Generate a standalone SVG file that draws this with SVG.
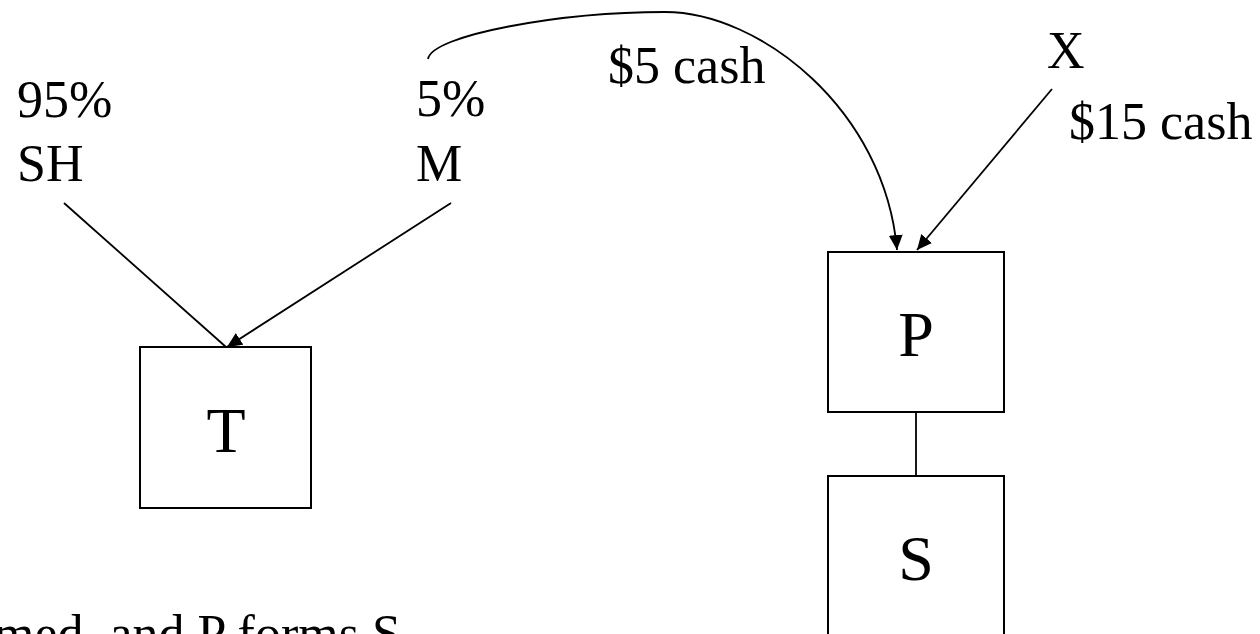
<svg xmlns="http://www.w3.org/2000/svg" width="1260" height="634" viewBox="0 0 1260 634">
<style>
.lbl{font-family:"Liberation Serif","Times New Roman",serif;font-size:52px;fill:#000}
.big{font-family:"Liberation Serif","Times New Roman",serif;font-size:64px;fill:#000;text-anchor:middle}
.box{fill:#fff;stroke:#000;stroke-width:2}
.edge{fill:none;stroke:#000;stroke-width:1.8}
</style>
<defs>
<marker id="ah" markerUnits="userSpaceOnUse" markerWidth="16" markerHeight="14" refX="15" refY="7" orient="auto">
<path d="M0,0 L15,7 L0,14 z" fill="#000"/>
</marker>
</defs>
<rect width="1260" height="634" fill="#fff"/>
<g id="connectors">
<line class="edge" x1="64" y1="203" x2="226" y2="347"/>
<line class="edge" x1="451" y1="203" x2="227" y2="347" marker-end="url(#ah)"/>
<path class="edge" d="M428,59 C432,35 560,12 665,12 C760,12 885,110 897,250" marker-end="url(#ah)"/>
<line class="edge" x1="1052" y1="89" x2="917" y2="250" marker-end="url(#ah)"/>
<line class="edge" x1="916" y1="412" x2="916" y2="476" stroke-width="2.2"/>
</g>
<g id="node-T">
<rect class="box" x="140" y="347" width="171" height="161"/>
<text class="big" x="226" y="452">T</text>
</g>
<g id="node-P">
<rect class="box" x="828" y="252" width="176" height="160"/>
<text class="big" x="916" y="356">P</text>
</g>
<g id="node-S">
<rect class="box" x="828" y="476" width="176" height="170"/>
<text class="big" x="916" y="580">S</text>
</g>
<g id="node-SH">
<text class="lbl" x="17" y="117">95%</text>
<text class="lbl" x="17" y="181">SH</text>
</g>
<g id="node-M">
<text class="lbl" x="416" y="116">5%</text>
<text class="lbl" x="416" y="181">M</text>
</g>
<g id="node-X">
<text class="lbl" x="1047" y="68">X</text>
</g>
<g id="labels">
<text class="lbl" x="608" y="83">$5 cash</text>
<text class="lbl" x="1069" y="139">$15 cash</text>
<text class="lbl" x="-6" y="651">med, and P forms S</text>
</g>
</svg>
